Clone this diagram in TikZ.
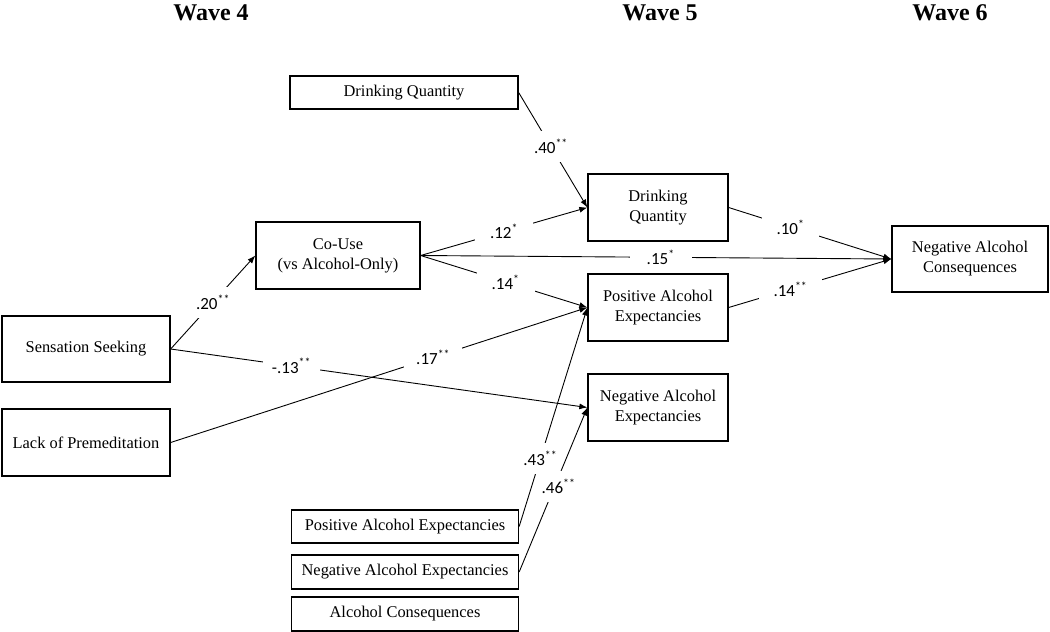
\documentclass[tikz,border=0pt]{standalone}
\usepackage{fontspec}
\setmainfont{Liberation Serif}
\newfontfamily\labfont{Carlito}
\usetikzlibrary{arrows.meta}
\begin{document}
\begin{tikzpicture}[x=1pt,y=-1pt,
  box/.style={draw, line width=1.3pt, inner sep=0pt, align=center,
    font=\fontsize{16.4}{20}\selectfont},
  conn/.style={line width=0.9pt, -{Latex[length=8pt,width=6pt]}},
  lab/.style={fill=white, inner xsep=15pt, inner ysep=8pt,
    font=\labfont\fontsize{17}{18}\selectfont},
  steep/.style={inner xsep=3pt},
  hdr/.style={font=\bfseries\fontsize{24}{26}\selectfont, anchor=base}]
\useasboundingbox (0,0) rectangle (1050,632);

% headers
\node[hdr] (w4) at (211,20) {Wave 4};
\node[hdr] (w5) at (660,20) {Wave 5};
\node[hdr] (w6) at (950,20) {Wave 6};

% Wave 4 boxes
\node[box, minimum width=228pt, minimum height=33pt] (topDQ) at (404,92.5) {Drinking Quantity};
\node[box, minimum width=164pt, minimum height=67pt] (coUse) at (338,255.5) {Co-Use\\(vs Alcohol-Only)};
\node[box, minimum width=168pt, minimum height=66pt] (ss) at (86,349) {Sensation Seeking};
\node[box, minimum width=168pt, minimum height=67pt] (lop) at (86,442.5) {Lack of Premeditation};
\node[box, minimum width=227pt, minimum height=33pt] (bPAE) at (405,526.5) {Positive Alcohol Expectancies};
\node[box, minimum width=227pt, minimum height=34pt] (bNAE) at (405,572) {Negative Alcohol Expectancies};
\node[box, minimum width=227pt, minimum height=34pt] (bAC) at (405,614) {Alcohol Consequences};

% Wave 5 boxes
\node[box, minimum width=140pt, minimum height=67pt] (dq5) at (658,207.5) {Drinking\\Quantity};
\node[box, minimum width=140pt, minimum height=67pt] (pae5) at (658,307.5) {Positive Alcohol\\Expectancies};
\node[box, minimum width=140pt, minimum height=67pt] (nae5) at (658,407.5) {Negative Alcohol\\Expectancies};

% Wave 6 box
\node[box, minimum width=156pt, minimum height=66pt] (nac) at (970,259) {Negative Alcohol\\Consequences};

% connectors
\draw[conn] (topDQ.east) -- node[lab, steep, pos=.47] {.40\textsuperscript{**}} (dq5.west);
\draw[conn] (coUse.east) -- node[lab, pos=.5] {.12\textsuperscript{*}} (dq5.west);
\draw[conn] (coUse.east) -- node[lab, inner xsep=17pt, pos=.51] {.15\textsuperscript{*}} (nac.west);
\draw[conn] (coUse.east) -- node[lab, pos=.51] {.14\textsuperscript{*}} (pae5.west);
\draw[conn] (dq5.east) -- node[lab, pos=.38] {.10\textsuperscript{*}} (nac.west);
\draw[conn] (pae5.east) -- node[lab, pos=.38] {.14\textsuperscript{**}} (nac.west);
\draw[conn] (ss.east) -- node[lab, steep, pos=.5] {.20\textsuperscript{**}} (coUse.west);
\draw[conn] (ss.east) -- node[lab, inner xsep=9pt, pos=.29] {-.13\textsuperscript{**}} (nae5.west);
\draw[conn] (lop.east) -- node[lab, inner xsep=12pt, pos=.63] {.17\textsuperscript{**}} (pae5.west);
\draw[conn] (bPAE.east) -- node[lab, steep, pos=.31] {.43\textsuperscript{**}} (pae5.west);
\draw[conn] (bNAE.east) -- node[lab, steep, pos=.52, xshift=4pt] {.46\textsuperscript{**}} (nae5.west);
\end{tikzpicture}
\end{document}
